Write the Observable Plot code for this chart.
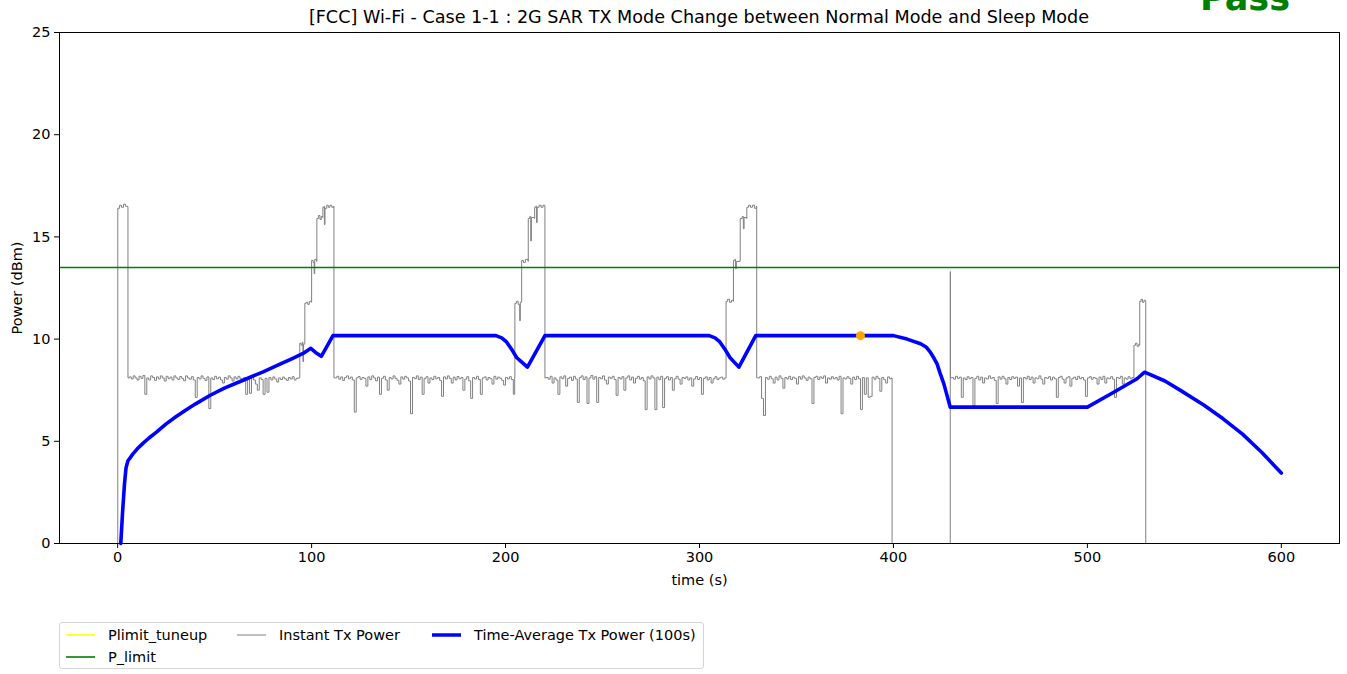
<!DOCTYPE html>
<html><head><meta charset="utf-8">
<script src="https://cdn.jsdelivr.net/npm/d3@7"></script>
<script src="https://cdn.jsdelivr.net/npm/@observablehq/plot@0.6"></script>
<style>
body{margin:0;background:#fff;font-family:"DejaVu Sans",sans-serif;}
#wrap{position:relative;width:1347px;height:674px;overflow:hidden;}
#topsvg{position:absolute;left:0;top:0;}
#legend{position:absolute;left:59px;top:622px;width:645px;height:47px;border:1px solid #d5d5d5;border-radius:3px;box-sizing:border-box;}
.li{position:absolute;font-size:14.5px;color:#000;white-space:nowrap;}
.li svg{position:absolute;left:0;top:0;}
.li span{position:absolute;top:0;line-height:16px;}
</style></head><body><div id="wrap"></div><script>
// ---------- data ----------
const titleText = "[FCC] Wi-Fi - Case 1-1 : 2G SAR TX Mode Change between Normal Mode and Sleep Mode";
const verdict = "Pass";
const xTicks = [0, 100, 200, 300, 400, 500, 600];
const yTicks = [0, 5, 10, 15, 20, 25];
const pLimit = 13.5;

// instant Tx power: transitions / step levels [t, dBm]
const instSteps = [
  [0,0],[0.05,16.4],[1,16.55],[2,16.45],[3,16.6],[4,16.5],[5.2,16.45],[5.3,8.1],
  [93.8,8.1],[93.9,9.8],[94.6,9.7],[95.2,9.85],[95.5,8.9],[95.8,9.75],[96.4,9.8],[96.5,11.75],[97.2,11.8],[98,11.7],[98.8,11.85],[99.9,11.8],
  [100,13.85],[100.8,13.75],[101.3,13.2],[101.6,13.9],[102.6,13.8],[102.7,15.9],[103.5,16.05],[104.3,15.85],[105,16.0],[105.7,15.95],
  [105.8,16.45],[106.4,16.5],[106.6,15.6],[106.9,16.4],[107.8,16.55],[108.6,16.45],[109.5,16.55],[110.4,16.45],[111.4,16.5],[111.5,8.1],
  [204.7,8.1],[204.8,11.75],[205.6,11.85],[206.5,11.7],[207.3,10.9],[207.6,11.8],[208.2,11.8],[208.3,13.85],[209.2,13.75],[210.2,13.9],[211.6,13.8],
  [211.7,15.9],[212.5,16.0],[213,14.8],[213.3,15.95],[214.9,15.9],[215,16.45],[215.6,16.5],[216,15.7],[216.3,16.45],[217.3,16.55],[218.3,16.45],[219.3,16.55],[220.2,16.5],[220.3,8.1],
  [313.6,8.1],[313.7,11.85],[314.5,11.95],[315.5,11.8],[316.5,11.9],[317.4,11.85],[317.5,13.85],[318.2,13.9],[318.6,13.45],[319,13.8],[320.9,13.85],
  [321,15.9],[322,16.0],[322.6,15.4],[323,15.95],[324.3,15.9],[324.4,16.45],[325.3,16.55],[326.3,16.45],[327.3,16.55],[328.4,16.4],[329.4,16.5],[329.5,8.1],
  [399.2,8.1],[399.3,0],[429.2,0],[429.3,13.3],[429.4,8.1],
  [523.9,8.1],[524,9.7],[524.8,9.8],[525.6,9.65],[526.5,9.75],[526.9,9.7],[527,11.85],[527.7,11.95],[528.4,11.8],[529.2,11.9],[530,11.85],[530.1,0],[600,0]
];
// instant Tx power: noisy normal-mode stretches, one reading per second from t0
const noiseA = {t0: 6, v: [8.15,8.05,8.2,8.1,8.0,8.18,8.08,8.22,7.3,8.1,8.0,8.2,8.12,7.98,8.15,8.05,8.2,8.1,7.95,8.18,8.06,8.14,8.0,8.2,8.1,8.02,8.17,8.08,7.96,8.2,8.1,8.04,8.16,8.0,7.15,8.12,8.05,8.2,8.08,7.98,8.15,6.6,8.1,8.02,8.18,8.06,8.14,8.0,7.85,8.12,8.04,8.2,8.1,7.95,8.15,8.05,8.18,8.08,7.98,8.12,7.3,8.05,7.35,8.15,8.0,7.8,7.5,8.1,8.02,7.3,8.08,7.4,8.12,8.0,8.15,8.05,7.9,8.1,8.02,8.14,8.06,7.98,8.12,8.05,8.16,8.0,8.08,8.1]};
const noiseB = {t0: 112, v: [8.1,8.18,8.04,8.15,7.98,8.12,8.2,8.06,8.14,8.0,6.43,8.1,8.17,8.03,8.12,8.08,7.7,8.15,8.02,8.2,8.1,7.96,8.14,7.3,8.08,8.18,8.0,7.5,8.12,8.05,8.2,8.08,7.98,7.8,8.15,8.04,8.18,8.1,7.95,6.35,8.12,8.06,8.2,8.02,8.14,7.3,8.08,8.16,7.85,8.1,8.02,8.18,8.06,8.12,7.98,7.2,8.15,8.05,8.2,8.08,7.85,8.14,8.0,8.17,8.06,8.12,7.5,8.04,8.16,7.96,7.1,8.12,8.05,8.18,8.02,7.3,8.1,8.15,8.0,8.12,8.06,7.8,8.18,8.04,8.14,8.08,7.98,7.75,8.12,8.05,8.16,8.02,7.3]};
const noiseC = {t0: 221, v: [8.12,8.04,8.18,7.85,8.1,8.0,7.3,8.15,8.06,8.2,7.7,8.08,8.14,7.98,8.18,8.05,6.9,8.12,8.2,8.02,8.15,6.85,8.1,8.22,8.04,8.16,6.9,8.12,8.06,8.2,8.0,7.8,8.14,8.08,8.18,8.02,7.25,8.12,8.05,8.16,7.5,8.1,8.2,8.0,8.14,7.85,8.08,8.18,8.04,8.12,7.96,6.55,8.15,8.05,8.2,8.1,6.55,8.14,8.02,8.18,6.65,8.08,8.16,8.0,8.12,7.5,8.06,8.18,8.04,7.8,8.12,8.08,8.15,8.0,8.1,7.7,8.05,8.17,8.02,8.12,7.3,8.08,8.15,8.0,8.12,7.85,8.06,8.16,8.02,8.1,8.14,8.04,8.1]};
const noiseD = {t0: 330, v: [8.1,8.16,7.1,6.26,8.12,8.04,8.18,8.06,7.85,8.14,8.0,8.2,8.08,7.6,8.12,8.05,8.18,8.02,8.14,8.08,7.8,8.16,8.04,8.2,8.1,7.98,8.14,8.06,6.85,8.12,8.18,8.02,8.15,8.08,8.2,7.85,8.1,8.04,8.16,8.06,8.12,8.0,8.18,6.35,8.1,8.05,8.16,8.08,7.8,8.14,8.02,8.18,8.06,6.55,8.12,7.3,8.1,7.15,7.2,8.14,8.04,8.18,8.08,7.45,8.12,8.02,7.85,8.15,8.06,8.1]};
const noiseE = {t0: 430, v: [8.12,8.04,8.18,8.08,8.14,7.15,8.1,8.02,8.16,8.06,8.12,6.75,8.08,8.18,8.0,8.14,7.85,8.1,8.05,8.2,8.08,8.12,7.98,6.85,8.15,8.04,8.18,8.06,7.8,8.12,8.02,8.16,8.08,8.14,7.7,8.1,6.9,8.12,8.05,8.18,8.02,8.14,7.85,8.1,8.06,8.2,8.04,7.8,8.12,8.08,8.16,8.0,8.14,8.06,7.15,8.12,8.18,8.04,7.85,8.1,8.16,7.7,8.08,8.14,8.02,8.18,8.06,8.12,8.0,7.2,8.1,8.16,8.04,8.12,8.08,7.8,8.14,8.02,8.18,7.85,8.1,8.06,8.16,8.04,7.15,8.12,8.08,8.18,7.8,8.1,8.04,8.16,8.06,8.12]};

// time-average Tx power (100 s window) [t, dBm]
const avgPts = [
  [1.6,0],[2.5,1.5],[3.5,2.9],[4.3,3.7],[5.3,4.05],[6.5,4.2],[8,4.4],[10,4.62],[13,4.9],[16,5.15],[20,5.45],[25,5.85],[30,6.2],[35,6.52],[40,6.82],
  [47.5,7.24],[55,7.6],[65,8.0],[75,8.4],[82,8.7],[90,9.05],[95.6,9.3],[99.6,9.55],[102,9.35],[105,9.16],[111,10.17],
  [195,10.17],[198,10.06],[200.5,9.86],[203,9.52],[205.7,9.1],[208.5,8.86],[211.3,8.63],[220.3,10.17],
  [305,10.17],[308,10.06],[310.5,9.86],[313,9.52],[315.7,9.1],[318,8.86],[320.3,8.63],[329,10.17],
  [400,10.17],[407,10.0],[414,9.77],[417,9.6],[419,9.36],[421,9.05],[422.5,8.79],[424,8.35],[426,7.81],[429.3,6.67],
  [500,6.67],[513.6,7.4],[525.6,8.06],[529.5,8.38],[540,7.95],[548,7.49],[560,6.78],[570,6.1],[580,5.35],[590,4.45],[600,3.45]
];
const marker = [[383, 10.17]];

const legendLabels = ["Plimit_tuneup", "P_limit", "Instant Tx Power", "Time-Average Tx Power (100s)"];
const legendColors = ["yellow", "green", "gray", "blue"];

// ---------- build ----------
const inst = instSteps.map(([t, v]) => ({t, v}))
  .concat([noiseA, noiseB, noiseC, noiseD, noiseE].flatMap(s => s.v.map((v, i) => ({t: s.t0 + i, v}))))
  .sort((a, b) => a.t - b.t);
const avg = avgPts.map(([t, v]) => ({t, v}));
const dot = marker.map(([t, v]) => ({t, v}));

const chart = Plot.plot({
  width: 1347, height: 600,
  marginLeft: 59, marginRight: 8, marginTop: 32, marginBottom: 57,
  style: {fontFamily: "DejaVu Sans", fontSize: "14.5px", background: "white", color: "black"},
  x: {domain: [-30, 630]},
  y: {domain: [0, 25]},
  marks: [
    Plot.line(inst, {x: "t", y: "v", stroke: "#808080", strokeWidth: 1, curve: "step-after"}),
    Plot.ruleY([pLimit], {stroke: "green", strokeWidth: 1.6}),
    Plot.line(avg, {x: "t", y: "v", stroke: "blue", strokeWidth: 3.6, strokeLinejoin: "round"}),
    Plot.dot(dot, {x: "t", y: "v", r: 4.5, fill: "orange", stroke: "none"}),
    Plot.frame({stroke: "black", strokeWidth: 1}),
    Plot.axisX({ticks: xTicks, tickSize: 5, tickPadding: 3, label: "time (s)", labelAnchor: "center", labelArrow: "none", labelOffset: 41}),
    Plot.axisY({ticks: yTicks, tickSize: 5, tickPadding: 4, label: "Power (dBm)", labelAnchor: "center", labelArrow: "none", labelOffset: 48})
  ]
});

const wrap = document.getElementById("wrap");
wrap.appendChild(chart);

// title and verdict above the frame
const ns = "http://www.w3.org/2000/svg";
const head = document.createElementNS(ns, "svg");
head.setAttribute("id", "topsvg"); head.setAttribute("width", 1347); head.setAttribute("height", 30);
const t1 = document.createElementNS(ns, "text");
t1.setAttribute("x", 699); t1.setAttribute("y", 23); t1.setAttribute("text-anchor", "middle");
t1.setAttribute("font-family", "DejaVu Sans"); t1.setAttribute("font-size", "17.6px");
t1.textContent = titleText; head.appendChild(t1);
const t2 = document.createElementNS(ns, "text");
t2.setAttribute("x", 1200); t2.setAttribute("y", 10);
t2.setAttribute("font-family", "DejaVu Sans"); t2.setAttribute("font-size", "35px"); t2.setAttribute("font-weight", "bold");
t2.setAttribute("fill", "green");
t2.textContent = verdict; head.appendChild(t2);
wrap.appendChild(head);

// legend below
const lg = document.createElement("div"); lg.id = "legend";
const pos = [[6, 4], [6, 26], [177, 4], [372, 4]];
legendLabels.forEach((lab, i) => {
  const d = document.createElement("div"); d.className = "li";
  d.style.left = pos[i][0] + "px"; d.style.top = pos[i][1] + "px";
  const w = i === 3 ? 3.5 : (i === 2 ? 1 : 1.6);
  d.innerHTML = `<svg width="30" height="16"><line x1="0" x2="29" y1="8" y2="8" stroke="${legendColors[i]}" stroke-width="${w}"/></svg><span style="left:42px">${lab}</span>`;
  lg.appendChild(d);
});
wrap.appendChild(lg);
</script></body></html>
